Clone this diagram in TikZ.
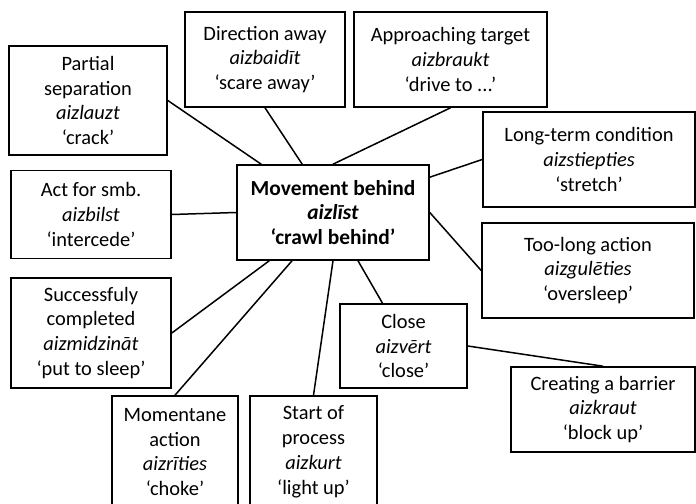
\documentclass[tikz,border=0pt]{standalone}
\usepackage{fontspec}
\setmainfont{Carlito}
\begin{document}
\begin{tikzpicture}[x=1bp,y=-1bp,
  box/.style={draw, line width=1.6bp, inner sep=0pt, align=center,
    font=\fontsize{20.5}{25}\selectfont},
  link/.style={line width=1.5bp}]
\useasboundingbox (0,0) rectangle (696,504);
\clip (0,0) rectangle (696,504);

% central concept
\node[box, minimum width=192bp, minimum height=95bp,
      font=\fontsize{21.5}{25}\selectfont] (c) at (333,212.5)
  {\textbf{Movement behind}\\\textbf{\textit{aizlīst}}\\\textbf{‘crawl behind’}};

% surrounding meanings
\node[box, minimum width=158bp, minimum height=109bp] (part) at (88,100.5)
  {Partial\\separation\\\textit{aizlauzt}\\‘crack’};
\node[box, minimum width=160bp, minimum height=95bp] (dir) at (265,59.5)
  {Direction away\\\textit{aizbaidīt}\\‘scare away’};
\node[box, minimum width=193bp, minimum height=95bp] (appr) at (450.5,59.5)
  {Approaching target\\\textit{aizbraukt}\\‘drive to ...’};
\node[box, minimum width=212bp, minimum height=95bp] (long) at (589,159.5)
  {Long-term condition\\\textit{aizstiepties}\\‘stretch’};
\node[box, minimum width=212bp, minimum height=95bp] (too) at (588,270.5)
  {Too-long action\\\textit{aizgulēties}\\‘oversleep’};
\node[box, minimum width=160bp, minimum height=88bp] (act) at (91,214.5)
  {Act for smb.\\\textit{aizbilst}\\‘intercede’};
\node[box, minimum width=160bp, minimum height=110bp] (succ) at (91,333)
  {Successfuly\\completed\\\textit{aizmidzināt}\\‘put to sleep’};
\node[box, minimum width=126bp, minimum height=112bp] (mom) at (175,452)
  {Momentane\\action\\\textit{aizrīties}\\‘choke’};
\node[box, minimum width=127bp, minimum height=112bp] (start) at (313.5,452)
  {Start of\\process\\\textit{aizkurt}\\‘light up’};
\node[box, minimum width=127bp, minimum height=84bp] (close) at (403.5,346)
  {Close\\\textit{aizvērt}\\‘close’};
\node[box, minimum width=184bp, minimum height=85bp] (barr) at (603,409.5)
  {Creating a barrier\\\textit{aizkraut}\\‘block up’};

% connectors
\draw[link] (part.east) -- ([xshift=25bp]c.north west);
\draw[link] (dir.south) -- ([xshift=66bp]c.north west);
\draw[link] (appr.south) -- (c.north);
\draw[link] (long.west) -- ([yshift=-13bp]c.north east);
\draw[link] (too.west) -- (c.east);
\draw[link] (act.east) -- (c.west);
\draw[link] (succ.east) -- ([xshift=33bp]c.south west);
\draw[link] (mom.north) -- ([xshift=-41bp]c.south);
\draw[link] (start.north) -- (c.south);
\draw[link] ([xshift=-21bp]close.north) -- ([xshift=25bp]c.south);
\draw[link] (close.east) -- (barr.north);
\end{tikzpicture}
\end{document}
